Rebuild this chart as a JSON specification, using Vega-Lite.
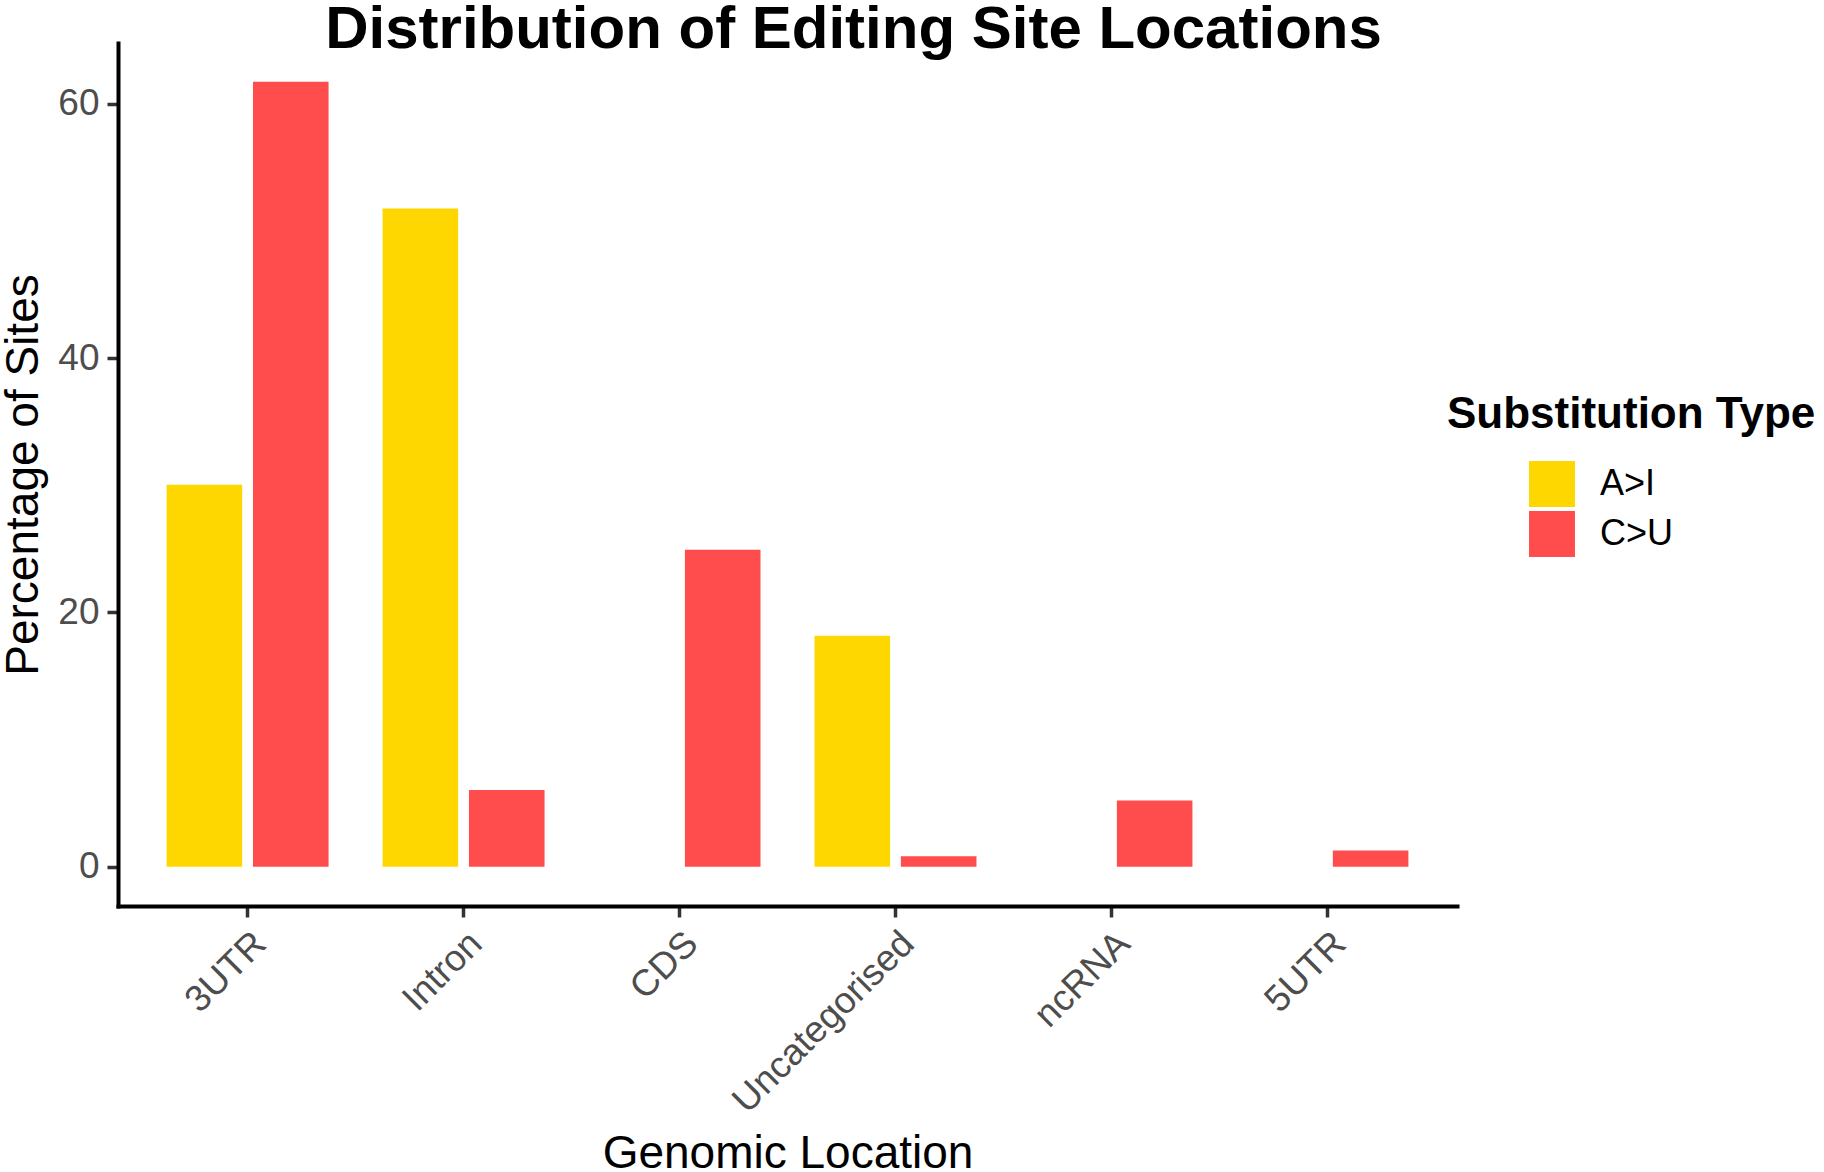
{
  "$schema": "https://vega.github.io/schema/vega-lite/v6.json",
  "autosize": {"type": "none"},
  "padding": {"left": 118, "top": 43, "right": 367, "bottom": 266},
  "width": 1339,
  "height": 863,
  "background": "white",
  "title": {
    "text": "Distribution of Editing Site Locations",
    "font": "Liberation Sans",
    "fontSize": 60,
    "fontWeight": "bold",
    "color": "black",
    "anchor": "middle",
    "baseline": "alphabetic",
    "offset": -65,
    "dx": 66
  },
  "data": {
    "values": [
      {"location": "3UTR", "type": "A>I", "pct": 30.05},
      {"location": "3UTR", "type": "C>U", "pct": 61.74},
      {"location": "Intron", "type": "A>I", "pct": 51.78},
      {"location": "Intron", "type": "C>U", "pct": 6.03},
      {"location": "CDS", "type": "A>I", "pct": 0},
      {"location": "CDS", "type": "C>U", "pct": 24.93},
      {"location": "Uncategorised", "type": "A>I", "pct": 18.17},
      {"location": "Uncategorised", "type": "C>U", "pct": 0.82},
      {"location": "ncRNA", "type": "A>I", "pct": 0},
      {"location": "ncRNA", "type": "C>U", "pct": 5.21},
      {"location": "5UTR", "type": "A>I", "pct": 0},
      {"location": "5UTR", "type": "C>U", "pct": 1.28}
    ]
  },
  "mark": {"type": "bar"},
  "encoding": {
    "x": {
      "field": "location",
      "type": "nominal",
      "sort": ["3UTR", "Intron", "CDS", "Uncategorised", "ncRNA", "5UTR"],
      "scale": {"paddingInner": 0.2, "paddingOuter": 0.2},
      "axis": {
        "title": "Genomic Location",
        "labelAngle": -45,
        "labelAlign": "right",
        "labelBaseline": "top",
        "labelPadding": 8,
        "labelLimit": 800,
        "titleY": 261,
        "titleBaseline": "alphabetic"
      }
    },
    "xOffset": {
      "field": "type",
      "type": "nominal",
      "sort": ["A>I", "C>U"],
      "scale": {"paddingInner": 0.125, "paddingOuter": 0.0625}
    },
    "y": {
      "field": "pct",
      "type": "quantitative",
      "scale": {"domain": [-3.085, 64.79], "nice": false, "zero": false},
      "axis": {
        "title": "Percentage of Sites",
        "values": [0, 20, 40, 60],
        "grid": false,
        "labelPadding": 8,
        "titleX": -81,
        "titleAngle": -90,
        "titleBaseline": "alphabetic"
      }
    },
    "y2": {"datum": 0},
    "color": {
      "field": "type",
      "type": "nominal",
      "sort": ["A>I", "C>U"],
      "scale": {"domain": ["A>I", "C>U"], "range": ["#FFD700", "#FF4D4D"]},
      "legend": {
        "title": "Substitution Type",
        "orient": "none",
        "legendX": 1329,
        "legendY": 350,
        "titleLimit": 800,
        "symbolType": "square",
        "symbolSize": 2116,
        "symbolStrokeWidth": 0,
        "symbolOffset": 82,
        "labelOffset": 25,
        "rowPadding": 4,
        "titlePadding": 24
      }
    }
  },
  "config": {
    "font": "Liberation Sans",
    "view": {"stroke": null},
    "axis": {
      "domainColor": "black",
      "domainWidth": 4,
      "domainCap": "square",
      "tickColor": "#333333",
      "tickWidth": 3.5,
      "tickSize": 11,
      "labelFont": "Liberation Sans",
      "labelFontSize": 37,
      "labelColor": "#4D4D4D",
      "titleFont": "Liberation Sans",
      "titleFontSize": 46,
      "titleFontWeight": "normal",
      "titleColor": "black"
    },
    "legend": {
      "titleFont": "Liberation Sans",
      "titleFontSize": 44,
      "titleFontWeight": "bold",
      "titleColor": "black",
      "labelFont": "Liberation Sans",
      "labelFontSize": 36,
      "labelColor": "black"
    }
  }
}
